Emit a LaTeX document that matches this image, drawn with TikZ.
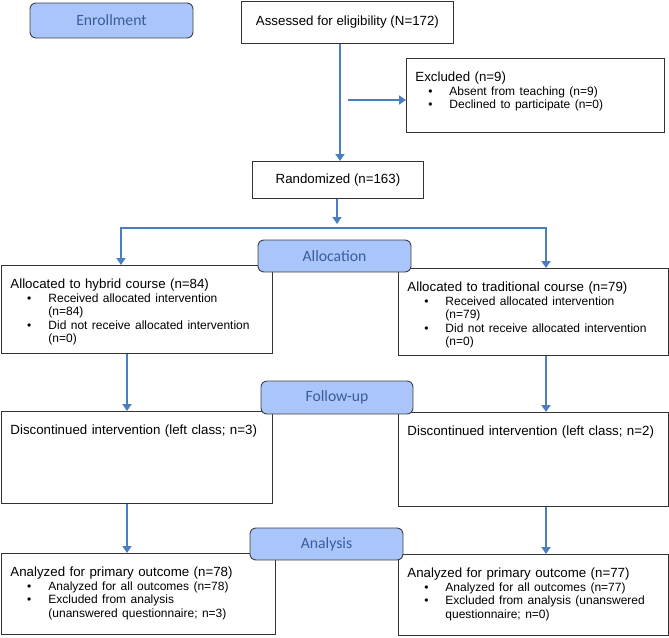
\documentclass[tikz,border=0pt]{standalone}
\usepackage{fontspec}
\setmainfont{Liberation Sans}
\newfontfamily\phasefamily{Carlito}
\usepackage{tikz}
\usetikzlibrary{arrows.meta, positioning, calc}
\usepackage{xcolor}
\definecolor{phasefill}{RGB}{169,197,249}
\definecolor{phasetext}{RGB}{58,92,158}
\definecolor{flowblue}{RGB}{74,126,193}
\newcommand{\boxfont}{\fontsize{13.3}{13.8}\selectfont}
\newcommand{\phasefont}{\phasefamily\fontsize{15.7}{18}\selectfont}
% bullet line inside a box, #1 = indent of the item text
\newcommand{\bitem}[2][38pt]{\par\begingroup\fontsize{12}{13.6}\selectfont
  \hangindent=#1\hangafter=0\noindent
  \llap{\textbullet\hspace{17pt}}#2\par\endgroup}

\begin{document}
\begin{tikzpicture}[
  x=1pt, y=-1pt,
  flowbox/.style={draw=black!80, line width=0.9pt, anchor=north west,
                  inner xsep=9pt, inner ysep=10pt, text height=13pt,
                  align=left, font=\boxfont},
  singlebox/.style={draw=black!80, line width=0.9pt, anchor=north west,
                    inner sep=0pt, align=center, font=\boxfont},
  phase/.style={draw=black!75, line width=0.9pt, fill=phasefill,
                text=phasetext, rounded corners=6pt, inner sep=0pt,
                minimum width=153pt, minimum height=32pt, font=\phasefont},
  arr/.style={-{Triangle[length=7pt,width=9pt]}, line width=2.6pt, flowblue}
]
\useasboundingbox (0,0) rectangle (669,637);
% enrollment
\node[phase, minimum width=163pt, minimum height=35pt] (enroll) at (111.5,20.5)
  {Enrollment};
\node[singlebox, minimum width=212pt, minimum height=42pt] (assessed) at (241,1)
  {Assessed for eligibility (N=172)};
\node[flowbox, text width=240pt, text depth=41pt] (excl) at (406,58)
  {Excluded (n=9)
   \bitem[34pt]{Absent from teaching (n=9)}
   \bitem[34pt]{Declined to participate (n=0)}};
\node[singlebox, minimum width=171pt, minimum height=37pt] (rand) at (252,161)
  {Randomized (n=163)};
% allocation
\node[flowbox, text width=253pt, text depth=55pt] (hybrid) at (1,265)
  {Allocated to hybrid course (n=84)
   \bitem{Received allocated intervention\newline (n=84)}
   \bitem{Did not receive allocated intervention\newline (n=0)}};
\node[flowbox, text width=252pt, text depth=54pt] (trad) at (398,268)
  {Allocated to traditional course (n=79)
   \bitem{Received allocated intervention\newline (n=79)}
   \bitem{Did not receive allocated intervention\newline (n=0)}};
% follow-up
\node[flowbox, text width=253pt, text depth=59pt] (discl) at (1,411)
  {Discontinued intervention (left class; n=3)};
\node[flowbox, text width=252pt, text depth=61pt] (discr) at (398,412)
  {Discontinued intervention (left class; n=2)};
% analysis
\node[flowbox, text width=256pt, text depth=48pt] (anall) at (1,553)
  {Analyzed for primary outcome (n=78)
   \bitem{Analyzed for all outcomes (n=78)}
   \bitem{Excluded from analysis\newline (unanswered questionnaire; n=3)}};
\node[flowbox, text width=252pt, text depth=48pt] (analr) at (398,554)
  {Analyzed for primary outcome (n=77)
   \bitem{Analyzed for all outcomes (n=77)}
   \bitem{Excluded from analysis (unanswered\newline questionnaire; n=0)}};
% phase labels on top of the boxes
\node[phase] (alloc) at (334.5,256) {Allocation};
\node[phase, minimum width=152pt, minimum height=33pt] (follow) at (337,397.5)
  {Follow-up};
\node[phase] (analysis) at (326.5,544) {Analysis};
% columns of the connectors
\coordinate (acol) at (340,0);
\coordinate (exstart) at (348,100);
\coordinate (split) at (337,228);
\coordinate (lsplit) at (121,0);
\coordinate (lcol) at (127,0);
\coordinate (rcol) at (546,0);
\draw[arr] (assessed.south -| acol) -- (rand.north -| acol);
\draw[arr] (exstart) -- (excl.west |- exstart);
\draw[arr] (rand.south -| split) -- ([yshift=4pt]split);
\draw[arr] (split) -| (hybrid.north -| lsplit);
\draw[arr] (split) -| (trad.north -| rcol);
\foreach \a/\b/\c in {hybrid/discl/lcol, discl/anall/lcol,
                      trad/discr/rcol, discr/analr/rcol}
  \draw[arr] (\a.south -| \c) -- (\b.north -| \c);
\end{tikzpicture}
\end{document}
